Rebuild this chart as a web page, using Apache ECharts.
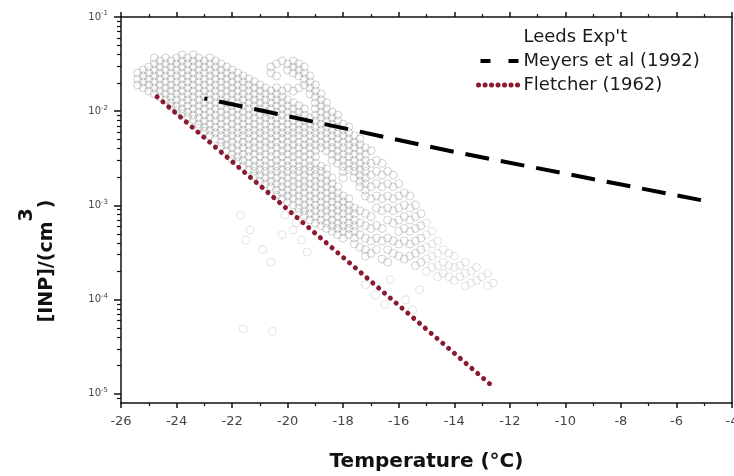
<!DOCTYPE html>
<html><head><meta charset="utf-8">
<script src="https://cdn.jsdelivr.net/npm/echarts@6/dist/echarts.min.js"></script>
<style>html,body{margin:0;padding:0;background:#fff}#c{width:734px;height:476px}</style>
</head><body><div id="c"></div>
<script>
// ---------- data ----------
const xTickMin = -26, xTickMax = -4, xTickStep = 2;
const yMin = 8e-6, yMax = 0.1;
const yMajorTicks = [1e-5, 1e-4, 1e-3, 1e-2, 1e-1];

const meyersT = [-23, -14, -5];
const meyersN = [0.0137, 0.0037, 0.00112];

const fletcherT = [-24.7, -12.7];
const fletcherN = [0.0142, 0.0000126];

// Leeds experiment: temperature columns and the concentrations read in each column
const leedsTemps = [-25.4,-25.2,-25.0,-24.8,-24.6,-24.4,-24.2,-24.0,-23.8,-23.6,-23.4,-23.2,-23.0,-22.8,-22.6,-22.4,-22.2,-22.0,-21.8,-21.6,-21.4,-21.2,-21.0,-20.8,-20.6,-20.4,-20.2,-20.0,-19.8,-19.6,-19.4,-19.2,-19.0,-18.8,-18.6,-18.4,-18.2,-18.0,-17.8,-17.6,-17.4,-17.2,-17.0,-16.8,-16.6,-16.4,-16.2,-16.0,-15.8,-15.6,-15.4,-15.2];
const leedsConc = [
 [0.0255,0.022,0.019],
 [0.0274,0.0237,0.0205,0.0177],
 [0.0295,0.0255,0.022,0.019,0.0164],
 [0.0367,0.0318,0.0274,0.0237,0.0205,0.0177,0.0153],
 [0.0341,0.0295,0.0255,0.022,0.019,0.0164,0.0142],
 [0.0367,0.0318,0.0274,0.0237,0.0205,0.0177,0.0153,0.0132],
 [0.0341,0.0295,0.0255,0.022,0.019,0.0164,0.0142,0.0123,0.0112],
 [0.0367,0.0318,0.0274,0.0237,0.0205,0.0177,0.0153,0.0132,0.0114,0.0101],
 [0.0395,0.0341,0.0295,0.0255,0.022,0.019,0.0164,0.0142,0.0123,0.0106,0.0094],
 [0.0367,0.0318,0.0274,0.0237,0.0205,0.0177,0.0153,0.0132,0.0114,0.0098,0.0087],
 [0.0395,0.0341,0.0295,0.0255,0.022,0.019,0.0164,0.0142,0.0123,0.0106,0.0091,0.0081],
 [0.0367,0.0318,0.0274,0.0237,0.0205,0.0177,0.0153,0.0132,0.0114,0.0098,0.0085,0.0073,0.0066],
 [0.0341,0.0295,0.0255,0.022,0.019,0.0164,0.0142,0.0123,0.0106,0.0091,0.0079,0.0068,0.0061],
 [0.0367,0.0318,0.0274,0.0237,0.0205,0.0177,0.0153,0.0132,0.0114,0.0098,0.0085,0.0073,0.0063,0.0055],
 [0.0341,0.0295,0.0255,0.022,0.019,0.0164,0.0142,0.0123,0.0106,0.0091,0.0079,0.0068,0.0059,0.0051],
 [0.0318,0.0274,0.0237,0.0205,0.0177,0.0153,0.0132,0.0114,0.0098,0.0085,0.0073,0.0063,0.0055,0.0047,0.0042],
 [0.0295,0.0255,0.022,0.019,0.0164,0.0142,0.0123,0.0106,0.0091,0.0079,0.0068,0.0059,0.0051,0.0044,0.0038],
 [0.0274,0.0237,0.0205,0.0177,0.0153,0.0132,0.0114,0.0098,0.0085,0.0073,0.0063,0.0055,0.0047,0.0041,0.0035,0.0031],
 [0.0255,0.022,0.019,0.0164,0.0142,0.0123,0.0106,0.0091,0.0079,0.0068,0.0059,0.0051,0.0044,0.0038,0.0033,0.0029],
 [0.0237,0.0205,0.0177,0.0153,0.0132,0.0114,0.0098,0.0085,0.0073,0.0063,0.0055,0.0047,0.0041,0.0035,0.0030,0.0026],
 [0.022,0.019,0.0164,0.0142,0.0123,0.0106,0.0091,0.0079,0.0068,0.0059,0.0051,0.0044,0.0038,0.0033,0.0028,0.0024],
 [0.0205,0.0177,0.0153,0.0132,0.0114,0.0098,0.0085,0.0073,0.0063,0.0055,0.0047,0.0041,0.0035,0.0030,0.0026,0.0023,0.00205],
 [0.019,0.0164,0.0142,0.0123,0.0106,0.0091,0.0079,0.0068,0.0059,0.0051,0.0044,0.0038,0.0033,0.0028,0.0024,0.0021,0.0018],
 [0.0177,0.0153,0.0132,0.0114,0.0098,0.0085,0.0073,0.0063,0.0055,0.0047,0.0041,0.0035,0.0030,0.0026,0.0023,0.00196,0.0017],
 [0.0295,0.0255,0.0164,0.0142,0.0123,0.0106,0.0091,0.0079,0.0068,0.0059,0.0051,0.0044,0.0038,0.0033,0.0028,0.0024,0.0021,0.0018,0.00158],
 [0.0318,0.0237,0.0177,0.0153,0.0132,0.0114,0.0098,0.0085,0.0073,0.0063,0.0055,0.0047,0.0041,0.0035,0.0030,0.0026,0.0023,0.00196,0.0017,0.00146,0.00128],
 [0.0341,0.0164,0.0142,0.0123,0.0106,0.0091,0.0079,0.0068,0.0059,0.0051,0.0044,0.0038,0.0033,0.0028,0.0024,0.0021,0.0018,0.00158,0.00136,0.00118],
 [0.0318,0.0274,0.0177,0.0132,0.0114,0.0098,0.0085,0.0073,0.0063,0.0055,0.0047,0.0041,0.0035,0.0030,0.0026,0.0023,0.00196,0.0017,0.00146,0.00126,0.00109],
 [0.0341,0.0295,0.0255,0.0164,0.0123,0.0106,0.0091,0.0079,0.0068,0.0059,0.0051,0.0044,0.0038,0.0033,0.0028,0.0024,0.0021,0.0018,0.00158,0.00136,0.00118,0.00101],
 [0.0318,0.0274,0.0237,0.0177,0.0114,0.0098,0.0085,0.0073,0.0063,0.0055,0.0047,0.0041,0.0035,0.0030,0.0026,0.0023,0.00196,0.0017,0.00146,0.00126,0.00109,0.00094,0.00084],
 [0.0295,0.0255,0.022,0.019,0.0106,0.0091,0.0079,0.0068,0.0059,0.0051,0.0044,0.0038,0.0033,0.0028,0.0024,0.0021,0.0018,0.00158,0.00136,0.00118,0.00101,0.00088,0.00078],
 [0.0237,0.0205,0.0177,0.0153,0.0085,0.0073,0.0063,0.0055,0.0047,0.0041,0.0035,0.0030,0.0026,0.0023,0.00196,0.0017,0.00146,0.00126,0.00109,0.00094,0.00082,0.0007],
 [0.019,0.0164,0.0142,0.0123,0.0106,0.0091,0.0079,0.0068,0.0059,0.0051,0.0044,0.0038,0.0033,0.0028,0.0024,0.0021,0.0018,0.00158,0.00136,0.00118,0.00101,0.00088,0.00076,0.00065],
 [0.0153,0.0132,0.0114,0.0098,0.0085,0.0073,0.0063,0.0055,0.0047,0.0041,0.0026,0.0023,0.00196,0.0017,0.00146,0.00126,0.00109,0.00094,0.00082,0.0007,0.00061],
 [0.0123,0.0106,0.0091,0.0079,0.0068,0.0059,0.0051,0.0044,0.0038,0.00244,0.00211,0.00182,0.00158,0.00136,0.00118,0.00101,0.00088,0.00076,0.00065,0.00057],
 [0.0098,0.0085,0.0073,0.0063,0.0055,0.0047,0.0041,0.0035,0.0030,0.00196,0.0017,0.00146,0.00126,0.00109,0.00094,0.00082,0.0007,0.00061,0.00053],
 [0.0091,0.0079,0.0068,0.0059,0.0051,0.0044,0.0038,0.0033,0.0028,0.00158,0.00136,0.00118,0.00101,0.00088,0.00076,0.00065,0.00057,0.00049],
 [0.0073,0.0063,0.0055,0.0047,0.0041,0.0035,0.0030,0.0026,0.0023,0.00196,0.00126,0.00109,0.00094,0.00082,0.0007,0.00061,0.00053,0.00045],
 [0.0068,0.0059,0.0051,0.0044,0.0038,0.0033,0.0028,0.0024,0.00118,0.00101,0.00088,0.00076,0.00065,0.00057,0.00049],
 [0.0055,0.0047,0.0041,0.0035,0.0030,0.0026,0.0023,0.00196,0.00094,0.00082,0.0007,0.00061,0.00053,0.00045,0.00039],
 [0.0051,0.0044,0.0038,0.0033,0.0028,0.0024,0.0021,0.0018,0.00158,0.00088,0.00065,0.00049,0.00036],
 [0.0041,0.0035,0.0030,0.0026,0.0023,0.00196,0.0017,0.00146,0.00126,0.00082,0.00061,0.00045,0.00034,0.00029],
 [0.0038,0.0028,0.0021,0.00158,0.00118,0.00076,0.00057,0.00042,0.00031],
 [0.0030,0.0023,0.0017,0.00126,0.00094,0.00061,0.00045,0.00034],
 [0.0028,0.0021,0.00158,0.00118,0.00088,0.00057,0.00042,0.00027],
 [0.0023,0.0017,0.00126,0.00094,0.0007,0.00045,0.00034,0.00025],
 [0.0021,0.00158,0.00118,0.00088,0.00065,0.00042,0.00031],
 [0.0017,0.00126,0.00094,0.0007,0.00053,0.00039,0.00029],
 [0.00136,0.00101,0.00076,0.00057,0.00042,0.00027],
 [0.00126,0.00094,0.0007,0.00053,0.00039,0.00029],
 [0.00101,0.00076,0.00057,0.00042,0.00031,0.00023],
 [0.00082,0.00061,0.00045,0.00034,0.00025]
];
// faint tail of the Leeds cloud
const leedsTailTemps = [-15.0,-14.8,-14.6,-14.4,-14.2,-14.0,-13.8,-13.6,-13.4,-13.2,-13.0,-12.8,-12.6];
const leedsTailConc = [
 [0.00065,0.00049,0.00036,0.00027,0.0002],
 [0.00053,0.00039,0.00029,0.00022],
 [0.00042,0.00031,0.00023,0.000175],
 [0.00034,0.00025,0.00019],
 [0.00031,0.00023,0.000175],
 [0.00029,0.00022,0.00016],
 [0.00023,0.000175],
 [0.00025,0.00019,0.00014],
 [0.0002,0.00015],
 [0.00022,0.00016],
 [0.000175],
 [0.00019,0.00014],
 [0.00015]
];
// isolated Leeds points
const leedsExtraT = [-20.1,-19.8,-19.5,-19.3,-19.7,-20.2,-21.7,-21.35,-20.9,-20.6,-21.5,-21.6,-20.55,-17.2,-16.85,-16.3,-15.75,-15.25,-16.5,-15.5];
const leedsExtraN = [0.00079,0.00055,0.00043,0.00032,0.00065,0.00049,0.00079,0.00055,0.00034,0.00025,0.00043,0.000049,0.000046,0.000144,0.000112,0.000163,0.0001,0.000127,0.000089,0.000078];

// ---------- build ----------
function columns(temps, conc) {
  const out = [];
  temps.forEach((t, i) => conc[i].forEach(v => out.push([t, v])));
  return out;
}
const leedsData = columns(leedsTemps, leedsConc);
const leedsTailData = columns(leedsTailTemps, leedsTailConc).concat(leedsExtraT.map((t, i) => [t, leedsExtraN[i]]));
const meyersData = meyersT.map((t, i) => [t, meyersN[i]]);
const fletcherData = fletcherT.map((t, i) => [t, fletcherN[i]]);

const yMinorTicks = [];
for (let e = -6; e <= -2; e++) for (let m = 2; m <= 9; m++) {
  const v = m * Math.pow(10, e);
  if (v > yMin && v < yMax) yMinorTicks.push(v);
}

const AX = '#111';
const FONT = 'DejaVu Sans';
const FLETCHER_COLOR = '#8a1a30';
const axisLineStyle = { color: AX, width: 1.5 };

const chart = echarts.init(document.getElementById('c'), null, { renderer: 'canvas' });
chart.setOption({
  animation: false,
  backgroundColor: '#fff',
  grid: { left: 121, right: 2, top: 17, bottom: 73, outerBoundsMode: 'none' },
  legend: {
    orient: 'vertical', left: 471, top: 23,
    itemWidth: 40, itemHeight: 14, itemGap: 6,
    textStyle: { fontSize: 18, fontFamily: FONT, color: '#1a1a1a' },
    data: [
      { name: "Leeds Exp't", itemStyle: { opacity: 0 } },
      { name: 'Meyers et al (1992)', itemStyle: { opacity: 0 },
        lineStyle: { color: '#000', width: 4, type: [10, 18], dashOffset: 26 } },
      { name: 'Fletcher (1962)', itemStyle: { opacity: 0 },
        lineStyle: { color: FLETCHER_COLOR, width: 5, type: [0.1, 6.4], cap: 'round', dashOffset: 0 } }
    ]
  },
  xAxis: [{
    type: 'value', position: 'bottom', min: xTickMin, max: xTickMax, interval: xTickStep,
    axisLine: { lineStyle: axisLineStyle },
    axisTick: { length: 5, lineStyle: axisLineStyle },
    minorTick: { show: true, splitNumber: 2, length: 3, lineStyle: { color: AX, width: 1.2 } },
    splitLine: { show: false },
    axisLabel: { fontSize: 13, color: '#444', fontFamily: FONT, margin: 12, showMaxLabel: true, showMinLabel: true },
    name: 'Temperature (°C)', nameLocation: 'middle', nameGap: 49,
    nameTextStyle: { fontSize: 20, fontWeight: 'bold', fontFamily: FONT, color: '#111' }
  }, {
    type: 'value', position: 'top', min: xTickMin, max: xTickMax, interval: xTickStep,
    axisLine: { lineStyle: axisLineStyle },
    axisTick: { length: 5, lineStyle: axisLineStyle },
    minorTick: { show: true, splitNumber: 2, length: 3, lineStyle: { color: AX, width: 1.2 } },
    splitLine: { show: false },
    axisLabel: { show: false }
  }],
  yAxis: [{
    type: 'log', logBase: 10, position: 'left', min: yMin, max: yMax,
    axisLine: { show: true, lineStyle: axisLineStyle },
    axisTick: { show: true, length: 7, customValues: yMajorTicks, lineStyle: axisLineStyle },
    splitLine: { show: false },
    axisLabel: {
      customValues: yMajorTicks, margin: 13, color: '#444',
      formatter: v => '{b|10}{e|' + Math.round(Math.log10(v)) + '}',
      rich: {
        b: { fontSize: 10, fontFamily: FONT, color: '#444' },
        e: { fontSize: 7, fontFamily: FONT, color: '#444', padding: [0, 0, 7, 0] }
      }
    }
  }, {
    type: 'log', logBase: 10, position: 'left', min: yMin, max: yMax,
    axisLine: { show: false },
    axisTick: { show: true, length: 4, customValues: yMinorTicks, lineStyle: { color: AX, width: 1.2 } },
    splitLine: { show: false },
    axisLabel: { show: false }
  }, {
    type: 'log', logBase: 10, position: 'right', min: yMin, max: yMax,
    axisLine: { show: true, lineStyle: axisLineStyle },
    axisTick: { show: false },
    splitLine: { show: false },
    axisLabel: { show: false }
  }],
  graphic: [{
    type: 'text', x: 47, y: 261, rotation: Math.PI / 2,
    style: {
      text: '{a|[INP]/(cm}{s|3}{a|)}',
      align: 'center', verticalAlign: 'middle',
      rich: {
        a: { fontSize: 19, fontWeight: 'bold', fontFamily: FONT, fill: '#111' },
        s: { fontSize: 19, fontWeight: 'bold', fontFamily: FONT, fill: '#111', padding: [0, 0, 40, 0] }
      }
    }
  }],
  series: [{
    name: "Leeds Exp't", type: 'scatter', data: leedsData,
    symbol: 'circle', symbolSize: 8,
    itemStyle: { color: 'rgba(255,255,255,0)', borderColor: 'rgba(120,120,120,0.42)', borderWidth: 1 },
    z: 2
  }, {
    name: "Leeds Exp't", type: 'scatter', data: leedsTailData,
    symbol: 'circle', symbolSize: 8,
    itemStyle: { color: 'rgba(255,255,255,0)', borderColor: 'rgba(140,140,140,0.3)', borderWidth: 1 },
    z: 2
  }, {
    name: 'Meyers et al (1992)', type: 'line', data: meyersData,
    symbol: 'none', smooth: false,
    lineStyle: { color: '#000', width: 4, type: [24, 12], dashOffset: 21 },
    itemStyle: { color: '#000' },
    z: 4
  }, {
    name: 'Fletcher (1962)', type: 'line', data: fletcherData,
    symbol: 'none',
    lineStyle: { color: FLETCHER_COLOR, width: 5, type: [0.1, 7.6], cap: 'round' },
    itemStyle: { color: FLETCHER_COLOR },
    z: 4
  }]
});
</script></body></html>
